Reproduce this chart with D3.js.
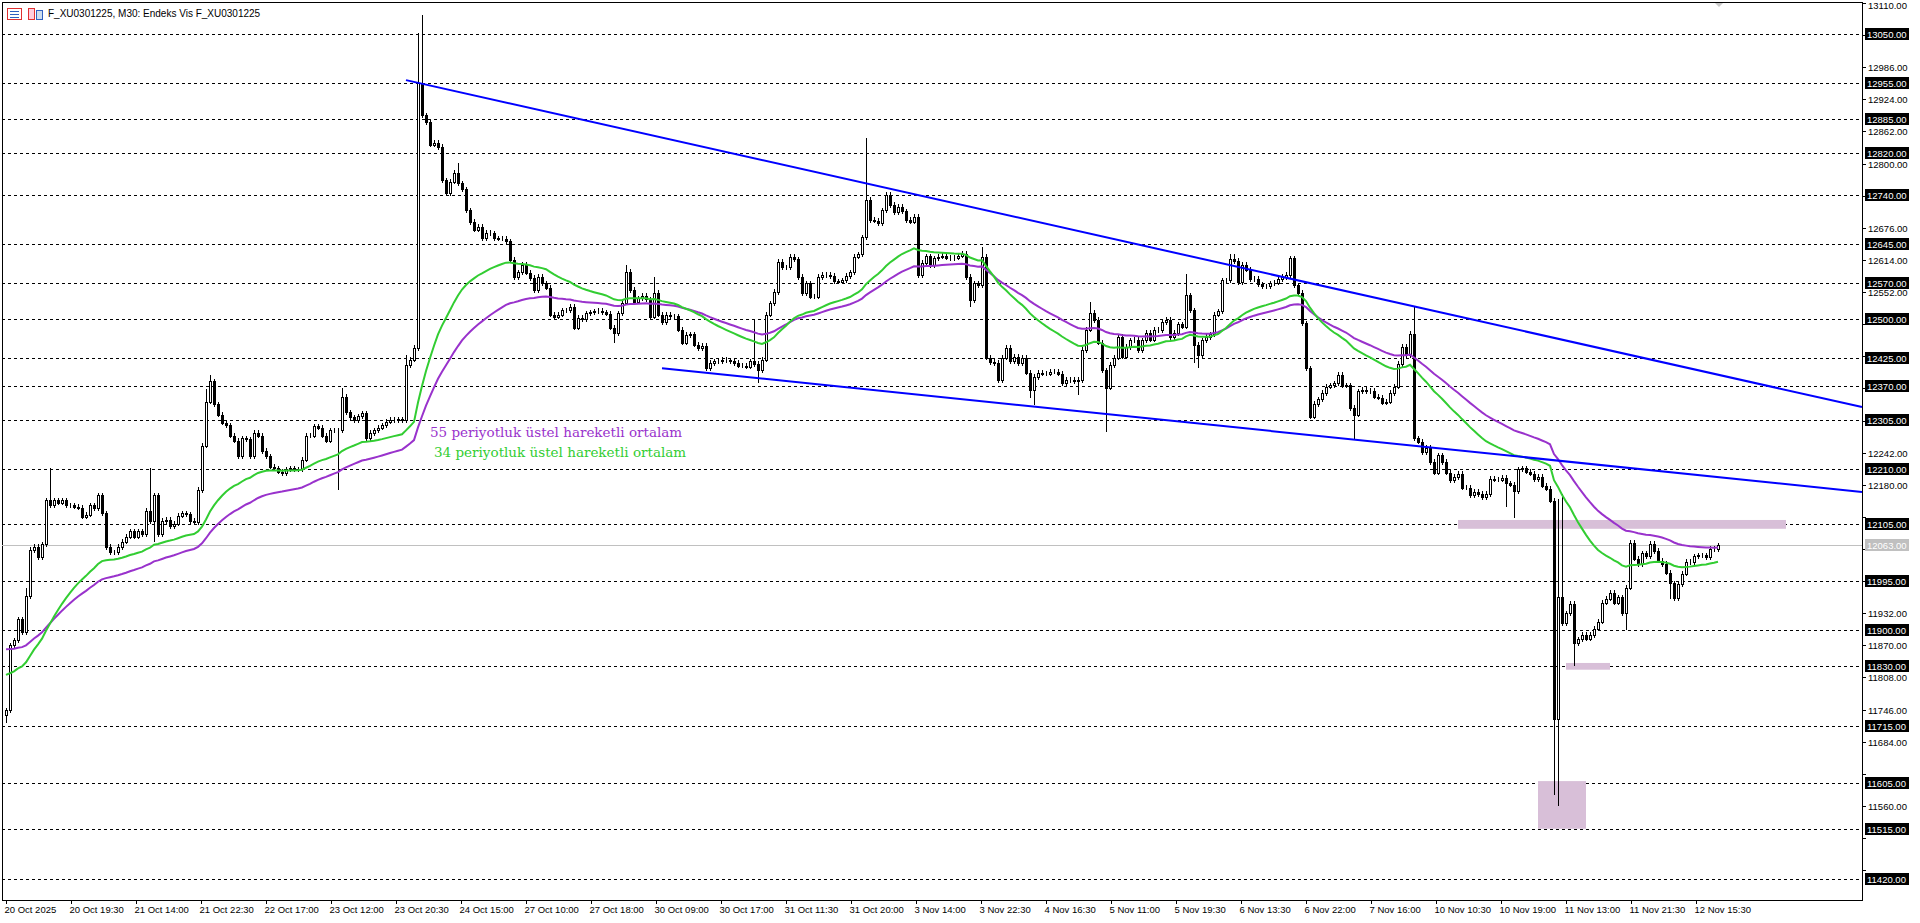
<!DOCTYPE html>
<html><head><meta charset="utf-8">
<script src="https://cdn.jsdelivr.net/npm/d3@7"></script>
<style>html,body{margin:0;padding:0;background:#fff;overflow:hidden}</style>
</head><body>
<svg id="c" width="1920" height="923"></svg>
<script>
const closes = [
11745,11870,11880,11920,11895,11965,12054,12060,12040,12065,
12150,12140,12150,12145,12150,12140,12140,12138,12136,12118,
12122,12140,12135,12160,12125,12060,12050,12050,12060,12070,
12080,12090,12080,12090,12085,12130,12110,12160,12085,12110,
12112,12100,12105,12120,12125,12123,12110,12108,12170,12255,
12340,12380,12335,12315,12300,12295,12275,12265,12235,12270,
12268,12235,12280,12275,12245,12235,12215,12212,12205,12202,
12210,12212,12210,12210,12228,12275,12275,12293,12290,12275,
12265,12285,12285,12285,12350,12320,12310,12305,12312,12318,
12270,12280,12285,12290,12295,12302,12305,12305,12306,12305,
12411,12421,12444,12955,12893,12880,12836,12840,12832,12768,
12743,12765,12782,12762,12750,12710,12687,12672,12678,12656,
12666,12665,12656,12655,12655,12650,12614,12581,12590,12604,
12589,12579,12556,12581,12569,12560,12508,12504,12508,12517,
12517,12523,12483,12502,12500,12511,12513,12515,12516,12513,
12510,12483,12473,12511,12531,12591,12556,12533,12540,12545,
12538,12504,12550,12508,12494,12508,12505,12505,12479,12454,
12469,12470,12450,12444,12448,12405,12415,12418,12418,12421,
12420,12418,12415,12410,12410,12408,12418,12413,12401,12421,
12508,12530,12552,12610,12600,12600,12620,12615,12581,12550,
12569,12543,12543,12581,12585,12585,12583,12573,12572,12575,
12583,12590,12620,12625,12658,12730,12691,12690,12685,12710,
12740,12720,12706,12716,12708,12691,12688,12697,12585,12608,
12621,12604,12617,12620,12622,12618,12617,12618,12622,12626,
12581,12536,12569,12565,12620,12425,12417,12415,12382,12425,
12444,12418,12427,12415,12425,12396,12363,12388,12396,12394,
12394,12398,12398,12394,12376,12382,12382,12380,12382,12440,
12479,12512,12498,12454,12401,12367,12411,12425,12465,12427,
12446,12459,12460,12440,12459,12473,12460,12479,12478,12494,
12498,12465,12473,12490,12485,12546,12517,12450,12430,12459,
12465,12470,12508,12515,
12575,12575,12615,12612,12571,12604,12595,12577,12578,12567,
12563,12563,12569,12570,12577,12581,12585,
12617,12565,12550,12492,12405,12311,12336,12345,12357,12369,
12372,12376,12392,12371,12372,12328,12315,12360,12363,12360,
12361,12350,12348,12338,12340,12357,12369,12413,12446,12430,
12471,12270,12263,12243,12251,12224,12203,12237,12224,12203,
12189,12195,12201,12174,12174,12160,12166,12162,12156,12162,
12191,12190,12190,12193,12183,12180,12168,12210,12212,12205,
12201,12191,12195,12178,12172,12149,11728,11963,11913,11932,
11950,11874,11882,11890,11883,11890,11902,11916,11952,11960,
11971,11952,11963,11932,11981,12068,12037,12027,12048,12042,
12066,12052,12033,12027,12010,11990,11961,11988,12008,12031,
12031,12042,12044,12044,12040,12056,12056,12063];
const firstOpen = 11735;
const highWicks = [[5,11981],[11,12212],[36,12212],[50,12365],[51,12392],[84,12367],[100,12430],[103,13052],[104,13087],[113,12801],[155,12604],[162,12581],[187,12498],[215,12849],[244,12639],[271,12533],[295,12587],[306,12625],[307,12625],[322,12622],[352,12523],[388,12152],[389,12162]];
const lowWicks = [[0,11720],[37,12070],[83,12170],[152,12454],[188,12376],[241,12523],[256,12347],[257,12334],[268,12353],[275,12282],[297,12415],[298,12406],[337,12266],[375,12137],[377,12116],[387,11581],[388,11560],[392,11830],[405,11900],[416,11960],[417,11955]];
const levels = [13050,12955,12885,12820,12740,12645,12570,12500,12425,12370,12305,12210,12105,11995,11900,11830,11715,11605,11515,11420];
const currentPrice = 12063;
const tickStart = 13110, tickStep = 62, tickEnd = 11436;
const timeLabels = ["20 Oct 2025","20 Oct 19:30","21 Oct 14:00","21 Oct 22:30","22 Oct 17:00","23 Oct 12:00","23 Oct 20:30","24 Oct 15:00","27 Oct 10:00","27 Oct 18:00","30 Oct 09:00","30 Oct 17:00","31 Oct 11:30","31 Oct 20:00","3 Nov 14:00","3 Nov 22:30","4 Nov 16:30","5 Nov 11:00","5 Nov 19:30","6 Nov 13:30","6 Nov 22:00","7 Nov 16:00","10 Nov 10:30","10 Nov 19:00","11 Nov 13:00","11 Nov 21:30","12 Nov 15:30"];
const labelBarStep = 16.25;
const trendUpper = [[100,12961],[464,12330]];
const trendLower = [[164,12405],[464,12166]];
const zones = [[363,445,12112,12095],[390,401,11836,11823],[383,395,11608,11516]];
const emaSeed34 = 11817, emaSeed55 = 11867;
const title = "F_XU0301225, M30:  Endeks Vis F_XU0301225";
const maLabels = [["55 periyotluk üstel hareketli ortalam","#9932CC"],["34 periyotluk üstel hareketli ortalam","#32CD32"]];

const svg = d3.select("#c");
const L=2, R=1862, T=2, B=900;
const x = d3.scaleLinear().domain([0,1]).range([6,10]);
const y = d3.scaleLinear().domain([13050,11420]).range([34,878.5]);

const hiMap=new Map(highWicks), loMap=new Map(lowWicks);
const bars = closes.map((c,i)=>{
  const o = i===0?firstOpen:closes[i-1];
  const h = hiMap.has(i)?hiMap.get(i):Math.max(o,c)+5;
  const l = loMap.has(i)?loMap.get(i):Math.min(o,c)-5;
  return {i,o,h,l,c};
});
function ema(n,seed){const k=2/(n+1);let e=seed;return closes.map(c=>(e=c*k+e*(1-k)));}
const e34=ema(34,emaSeed34), e55=ema(55,emaSeed55);

const g = svg.append("g");
g.append("rect").attr("x",L+0.5).attr("y",T+0.5).attr("width",R-L).attr("height",B-T).attr("fill","none").attr("stroke","#000");
g.selectAll(".lv").data(levels).join("line").attr("x1",L).attr("x2",R)
 .attr("y1",d=>Math.round(y(d))+0.5).attr("y2",d=>Math.round(y(d))+0.5)
 .attr("stroke","#000").attr("stroke-dasharray","3,3");
g.append("line").attr("x1",L).attr("x2",R).attr("y1",Math.round(y(currentPrice))+0.5).attr("y2",Math.round(y(currentPrice))+0.5).attr("stroke","#c0c0c0");
g.selectAll(".z").data(zones).join("rect").attr("x",d=>x(d[0])).attr("width",d=>x(d[1])-x(d[0]))
 .attr("y",d=>y(d[2])).attr("height",d=>y(d[3])-y(d[2])).attr("fill","#d8bfd8");
const cg=g.append("g").attr("shape-rendering","crispEdges");
cg.selectAll(".w").data(bars).join("line").attr("x1",d=>Math.round(x(d.i))+0.5).attr("x2",d=>Math.round(x(d.i))+0.5)
 .attr("y1",d=>y(d.h)).attr("y2",d=>y(d.l)).attr("stroke","#000");
cg.selectAll(".b").data(bars).join("rect").attr("x",d=>Math.round(x(d.i))-0.5).attr("width",2)
 .attr("y",d=>Math.round(y(Math.max(d.o,d.c)))+0.5).attr("height",d=>Math.max(0,Math.round(y(Math.min(d.o,d.c)))-Math.round(y(Math.max(d.o,d.c)))))
 .attr("fill",d=>d.c>=d.o?"#fff":"#000").attr("stroke","#000");
const line=d3.line().x((d,i)=>x(i)).y(d=>y(d));
g.append("path").attr("d",line(e55)).attr("fill","none").attr("stroke","#9932CC").attr("stroke-width",2);
g.append("path").attr("d",line(e34)).attr("fill","none").attr("stroke","#32CD32").attr("stroke-width",2);
function tl(p){const [a,b]=p;const s=(b[1]-a[1])/(b[0]-a[0]);const xe=(R-6)/4;return [[a[0],a[1]],[xe,a[1]+s*(xe-a[0])]];}
[trendUpper,trendLower].forEach(p=>{const q=tl(p);g.append("line").attr("x1",x(q[0][0])).attr("y1",y(q[0][1])).attr("x2",x(q[1][0])).attr("y2",y(q[1][1])).attr("stroke","#0000ff").attr("stroke-width",2);});
maLabels.forEach((m,k)=>g.append("text").attr("x",430+k*4).attr("y",437+k*20).attr("fill",m[1]).attr("font-family","DejaVu Serif").attr("font-size",13.5).text(m[0]));
const ax=svg.append("g").attr("font-family","Liberation Sans, Arial").attr("font-size",9.5);
const ticks=d3.range(tickStart,tickEnd-1,-tickStep);
ticks.forEach(t=>{const yy=Math.round(y(t))+0.5;
  ax.append("line").attr("x1",R).attr("x2",R+4).attr("y1",yy).attr("y2",yy).attr("stroke","#000");
  if(levels.some(l=>Math.abs(y(l)-y(t))<9)||Math.abs(y(currentPrice)-y(t))<9) return;
  ax.append("text").attr("x",R+6).attr("y",Math.max(yy+3.5,9)).text(t.toFixed(2));});
levels.forEach(l=>{const yy=Math.round(y(l));
  ax.append("rect").attr("x",R+3).attr("y",yy-6).attr("width",44).attr("height",12).attr("fill","#000");
  ax.append("text").attr("x",R+5).attr("y",yy+3.5).attr("fill","#fff").text(l.toFixed(2));});
{const yy=Math.round(y(currentPrice));
 ax.append("rect").attr("x",R+3).attr("y",yy-6).attr("width",44).attr("height",12).attr("fill","#c0c0c0");
 ax.append("text").attr("x",R+5).attr("y",yy+3.5).attr("fill","#fff").text(currentPrice.toFixed(2));}
timeLabels.forEach((t,k)=>{const xx=Math.round(x(k*labelBarStep))+0.5;
  ax.append("line").attr("x1",xx).attr("x2",xx).attr("y1",B).attr("y2",B+4).attr("stroke","#000");
  ax.append("text").attr("x",xx-2).attr("y",B+13).text(t);});
svg.append("text").attr("x",48).attr("y",17).attr("font-family","Liberation Sans, Arial").attr("font-size",10).text(title);
svg.append("rect").attr("x",7.5).attr("y",8.5).attr("width",14).attr("height",11).attr("fill","none").attr("stroke","#e03030");
[11,14,17].forEach(yy=>svg.append("line").attr("x1",10).attr("x2",19).attr("y1",yy+0.5).attr("y2",yy+0.5).attr("stroke","#3060c0"));
svg.append("rect").attr("x",28.5).attr("y",8.5).attr("width",6).attr("height",11).attr("fill","#fcd").attr("stroke","#e03030");
svg.append("rect").attr("x",36.5).attr("y",10.5).attr("width",6).attr("height",9).attr("fill","#cde").attr("stroke","#3060c0");
svg.append("path").attr("d","M1715,3 L1723,3 L1719,7 Z").attr("fill","#c8c8c8");
</script></body></html>
